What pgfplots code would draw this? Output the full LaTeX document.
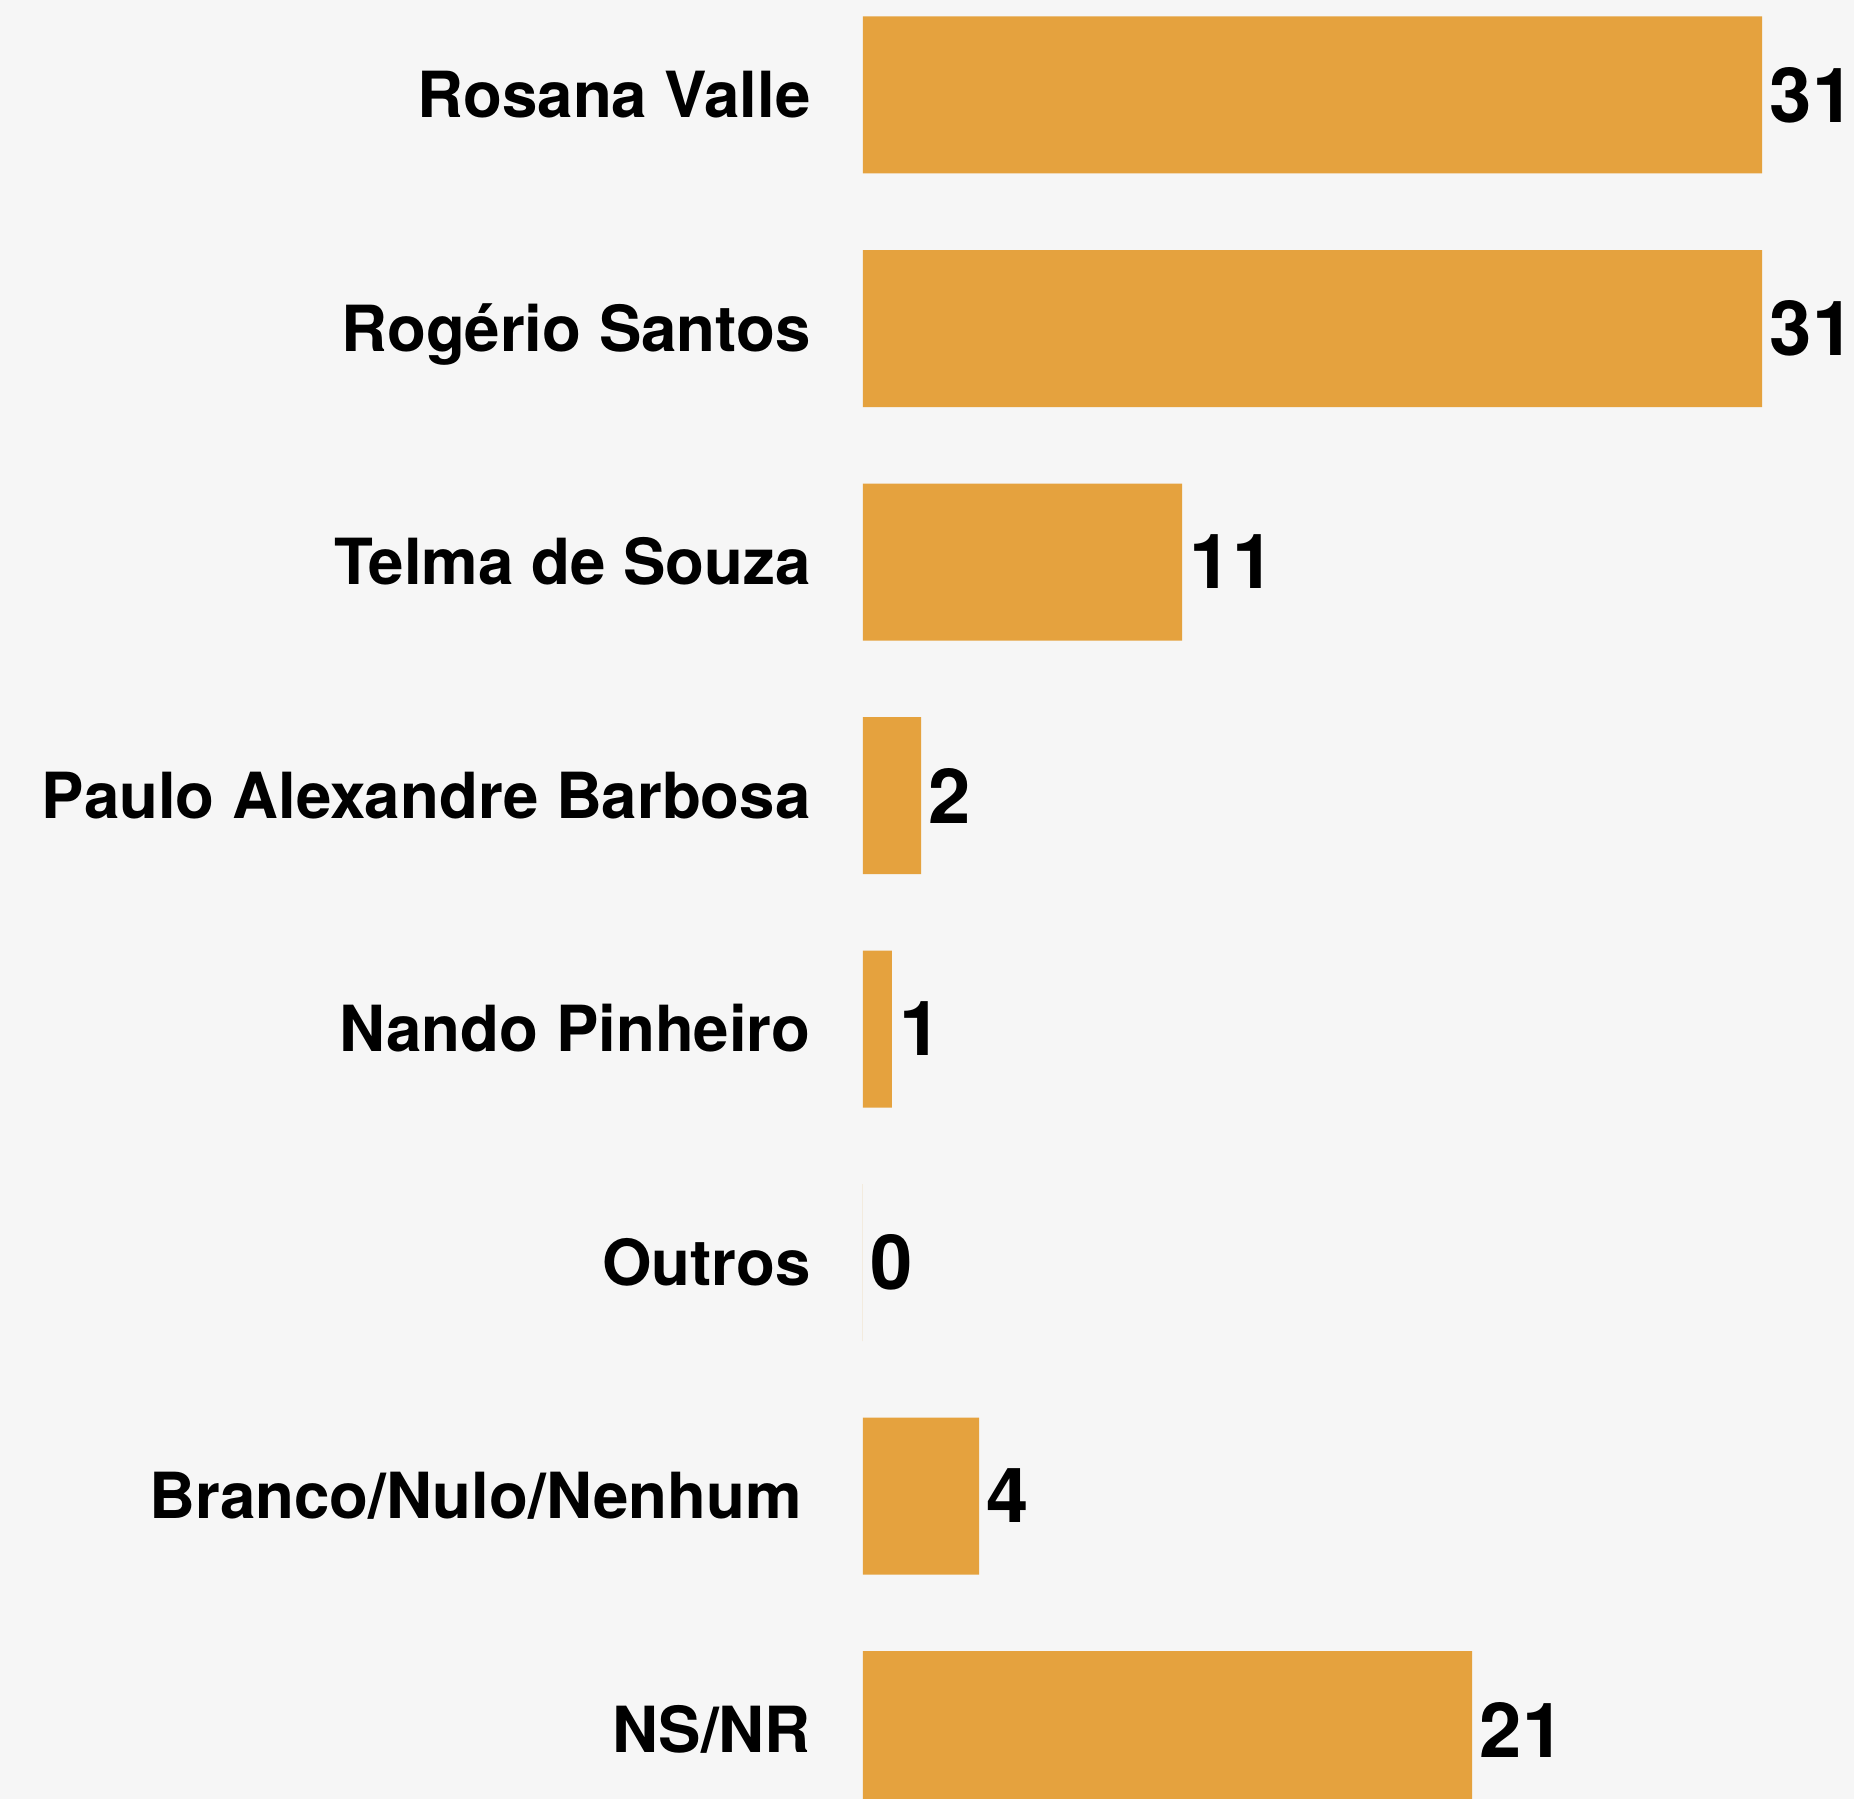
\documentclass[border=0pt]{standalone}
\usepackage{pgfplots}
\pgfplotsset{compat=1.18}
\usepackage{fontspec}
\setmainfont{TeX Gyre Heros}
\definecolor{barcol}{RGB}{229,162,62}
\definecolor{bgcol}{RGB}{246,246,246}
\begin{document}
\begin{tikzpicture}
\path[use as bounding box, fill=bgcol] (0,0) rectangle (463.5pt,449.75pt);
\begin{axis}[
  at={(215.75pt,0pt)}, anchor=south west,
  scale only axis, width=247.75pt, height=449.75pt,
  xbar, bar width=39.25pt,
  xmin=0, xmax=34.17,
  ymin=-0.4069, ymax=7.2976, y dir=reverse,
  axis line style={draw=none},
  major tick length=0pt,
  xtick=\empty,
  ytick={0,...,7},
  yticklabels={Rosana Valle, Rogério Santos, Telma de Souza, Paulo Alexandre Barbosa,
    Nando Pinheiro, Outros, Branco/Nulo/Nenhum\kern2.2pt, NS/NR},
  yticklabel style={anchor=base east, inner sep=0pt, xshift=-12.9pt, yshift=-5.7pt,
    font=\fontsize{15.9}{18}\selectfont\bfseries},
  point meta=explicit symbolic,
  nodes near coords,
  every node near coord/.append style={anchor=west, inner sep=0pt, xshift=1.75pt,
    font=\fontsize{19}{22}\selectfont\bfseries, text=black},
]
\addplot[fill=barcol, draw=none] coordinates {
  (31,0) [31]
  (31,1) [31]
  (11,2) [11]
  (2,3) [2]
  (1,4) [1]
  (0,5) [0]
  (4,6) [4]
  (21,7) [21]
};
\end{axis}
\end{tikzpicture}
\end{document}
